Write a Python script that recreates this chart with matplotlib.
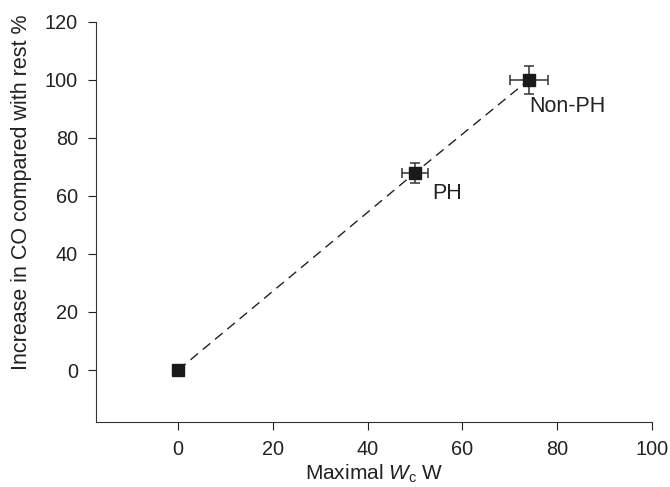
import matplotlib
matplotlib.use("Agg")
import matplotlib.pyplot as plt

plt.rcParams['font.family'] = ['Liberation Sans', 'DejaVu Sans']
plt.rcParams['mathtext.fontset'] = 'custom'
plt.rcParams['mathtext.rm'] = 'Liberation Sans'
plt.rcParams['mathtext.it'] = 'Liberation Sans:italic'

# Datos
wc = [0, 50, 74]
aumento_co = [0, 68, 100]
err_x = [0, 2.8, 4]
err_y = [0, 3.4, 4.8]
etiquetas = ["", "PH", "Non-PH"]
pos_etiquetas = [(0, 0), (53.7, 61), (74, 91)]

fig = plt.figure(figsize=(6.7, 4.87), dpi=100)
ax = fig.add_axes([0.143, 0.133, 0.83, 0.822])

ax.plot(wc, aumento_co, linestyle=(0, (7, 4.5)), color='#222222', linewidth=1.0, zorder=1)
ax.errorbar(wc, aumento_co, xerr=err_x, yerr=err_y, fmt='s', color='#1a1a1a',
            markersize=8.5, ecolor='#333333', elinewidth=1.1, capsize=3.5, capthick=1.1, zorder=3)

for txt, (tx, ty) in zip(etiquetas, pos_etiquetas):
    if txt:
        ax.text(tx, ty, txt, fontsize=15.5, color='#222222', va='center', ha='left')

ax.set_xlim(-17.4, 100)
ax.set_ylim(-18, 120)
ax.set_xticks([0, 20, 40, 60, 80, 100])
ax.set_yticks([0, 20, 40, 60, 80, 100, 120])
ax.spines['top'].set_visible(False)
ax.spines['right'].set_visible(False)
for s in ('left', 'bottom'):
    ax.spines[s].set_color('#333333')
ax.tick_params(labelsize=14.3, colors='#222222', length=6, pad=7)

ax.set_xlabel(r"Maximal $\mathit{W}_{\mathrm{c}}$ W", fontsize=15, color='#222222')
ax.set_ylabel("Increase in CO compared with rest %", fontsize=15.5, color='#222222')
ax.xaxis.set_label_coords(0.5, -0.1)
ax.yaxis.set_label_coords(-0.115, 0.575)

fig.savefig("out.png", dpi=100)
